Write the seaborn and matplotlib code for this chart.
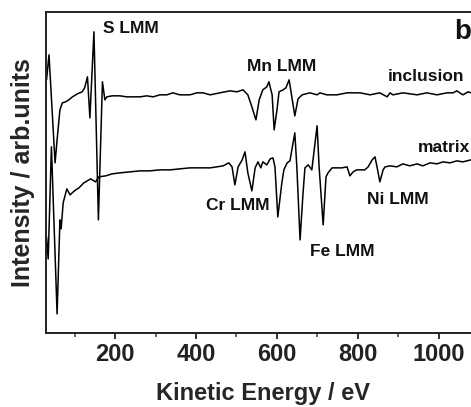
import numpy as np
import pandas as pd
import matplotlib
matplotlib.use("Agg")
import matplotlib.pyplot as plt
from matplotlib.ticker import MultipleLocator
import seaborn as sns

# -----------------------------
# Data
# -----------------------------
inclusion_ev = [31, 37, 52, 57, 64, 70, 78, 86, 95, 107, 119, 125, 132, 138, 148, 159,
                169, 175, 180, 193, 212, 229, 244, 262, 278, 294, 311, 328, 343, 360,
                385, 402, 417, 435, 459, 484, 501, 516, 528, 538, 548, 556, 565, 575,
                580, 588, 593, 600, 605, 615, 622, 630, 637, 644, 652, 662, 681, 699,
                706, 723, 748, 773, 805, 830, 854, 872, 879, 886, 911, 946, 970, 995,
                1020, 1035, 1044, 1059, 1072, 1079, 1101]
inclusion_int = [253, 278, 170, 193, 223, 230, 231, 233, 236, 239, 241, 245, 256, 215,
                 301, 113, 251, 233, 236, 237, 237, 236, 236, 236, 237, 236, 238, 238,
                 240, 238, 238, 240, 240, 238, 240, 242, 241, 243, 238, 226, 213, 233,
                 243, 246, 251, 238, 203, 223, 241, 243, 245, 253, 235, 217, 234, 238,
                 240, 238, 240, 238, 238, 240, 240, 238, 240, 236, 240, 238, 240, 238,
                 240, 238, 240, 240, 242, 238, 241, 240, 239]

matrix_ev = [31, 35, 43, 57, 64, 67, 72, 81, 89, 97, 103, 111, 123, 140, 152, 160,
             177, 193, 212, 237, 262, 286, 311, 336, 360, 385, 410, 435, 467, 481,
             489, 496, 504, 514, 521, 528, 538, 546, 553, 560, 565, 575, 583, 590,
             595, 602, 612, 617, 625, 632, 644, 649, 657, 664, 669, 677, 686, 699,
             704, 714, 721, 726, 736, 748, 760, 773, 780, 788, 797, 805, 817, 825,
             835, 842, 847, 854, 862, 867, 879, 896, 911, 928, 946, 960, 978, 995,
             1010, 1027, 1044, 1059, 1079, 1101]
matrix_int = [96, 74, 186, 19, 113, 104, 130, 144, 138, 141, 143, 145, 150, 154, 151,
              156, 157, 159, 160, 161, 162, 162, 163, 163, 164, 165, 165, 165, 167,
              170, 166, 148, 166, 173, 181, 160, 142, 165, 171, 165, 171, 168, 174,
              175, 166, 116, 150, 163, 170, 172, 200, 166, 93, 138, 165, 168, 163,
              207, 166, 108, 156, 160, 165, 165, 165, 166, 157, 161, 163, 163, 163,
              166, 173, 176, 166, 151, 163, 166, 167, 166, 169, 167, 169, 167, 170,
              169, 171, 170, 172, 171, 173, 173]

xticks = [200, 400, 600, 800, 1000]

df = pd.concat([
    pd.DataFrame({"energy": inclusion_ev, "intensity": inclusion_int, "sample": "inclusion"}),
    pd.DataFrame({"energy": matrix_ev, "intensity": matrix_int, "sample": "matrix"}),
])

# -----------------------------
# Plot
# -----------------------------
sns.set_theme(style="ticks")
plt.rcParams["font.family"] = ["Liberation Sans", "DejaVu Sans"]
plt.rcParams["font.weight"] = "bold"

fig = plt.figure(figsize=(4.71, 4.07), dpi=100)
ax = fig.add_axes([0.098, 0.182, 0.92, 0.789])

sns.lineplot(data=df, x="energy", y="intensity", units="sample", estimator=None,
             sort=False, color="black", linewidth=1.1, ax=ax)

ax.set_xlim(30, 1100)
ax.set_ylim(0, 321)
ax.set_xticks(xticks)
ax.xaxis.set_minor_locator(MultipleLocator(100))
ax.set_yticks([])
ax.tick_params(axis="x", which="major", direction="out", length=4, width=1.3,
               labelsize=17, pad=3, colors="#222222")
ax.tick_params(axis="x", which="minor", direction="out", length=3, width=1.2,
               colors="#444444")
for lab in ax.get_xticklabels():
    lab.set_fontweight("bold")
for sp in ax.spines.values():
    sp.set_linewidth(1.4)
    sp.set_color("#222222")

ax.set_xlabel("Kinetic Energy / eV", fontsize=17, fontweight="bold", labelpad=12)
ax.set_ylabel("Intensity / arb.units", fontsize=18, fontweight="bold", labelpad=8)

# peak labels
kw = dict(ha="center", va="center", fontweight="bold", fontsize=12.5, color="#111111")
ax.text(240, 304, "S LMM", **kw)
ax.text(612, 266, "Mn LMM", **kw)
ax.text(968, 256, "inclusion", **kw)
ax.text(1012, 185, "matrix", **kw)
ax.text(899, 133, "Ni LMM", **kw)
ax.text(760, 81, "Fe LMM", **kw)
ax.text(504, 127, "Cr LMM", **kw)
ax.text(1058, 301, "b", ha="center", va="center", fontweight="bold", fontsize=20,
        color="#111111")

fig.savefig("out.png", dpi=100)
